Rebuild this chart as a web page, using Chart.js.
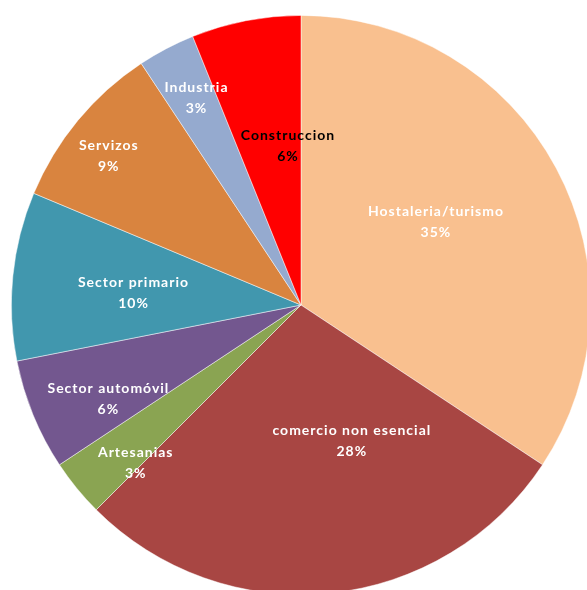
<!DOCTYPE html>
<html>
<head>
<meta charset="utf-8">
<script src="https://cdn.jsdelivr.net/npm/chart.js@4/dist/chart.umd.min.js"></script>
<style>
  html, body { margin: 0; padding: 0; background: #fff; overflow: hidden; width: 587px; height: 590px; }
  #wrap { position: absolute; left: 11px; top: 15px; width: 580px; height: 580px; }
</style>
</head>
<body>
<div id="wrap"><canvas id="chart"></canvas></div>
<script>
// Sectors, clockwise from 12 o'clock
const SECTORS = [
	'Hostaleria/turismo',
	'comercio non esencial',
	'Artesanias',
	'Sector automóvil',
	'Sector primario',
	'Servizos',
	'Industria',
	'Construccion',
];
// Slice sizes (share of the circle, %)
const SHARES = [ 34.3, 28.2, 3.2, 6.2, 9.4, 9.4, 3.2, 6.1 ];
// Percentages as printed on the slices
const PCT_LABELS = [ '35%', '28%', '3%', '6%', '10%', '9%', '3%', '6%' ];

const COLORS = [ '#f9c08f', '#a84643', '#8aa452', '#73578f', '#4197ae', '#d9843f', '#95aacf', '#ff0000' ];
const TEXT_COLORS = [ '#fff', '#fff', '#fff', '#fff', '#fff', '#fff', '#fff', '#000' ];
// Label placement: fraction of radius and angle shift (deg) from slice middle
const LABEL_R = [ 0.547, 0.50, 0.79, 0.74, 0.58, 0.84, 0.80, 0.55 ];
const LABEL_SHIFT = [ -3.3, -14.8, -4.5, -3.7, -1.5, -1.8, 0.9, 6.3 ];

// Draw "name / pct" labels inside each slice, Excel style
const sliceLabels = {
	id: 'sliceLabels',
	afterDatasetsDraw( chart ) {
		const { ctx } = chart;
		const meta = chart.getDatasetMeta( 0 );
		ctx.save();
		ctx.font = 'bold 14px Lato, "Open Sans", sans-serif';
		ctx.letterSpacing = '1px';
		ctx.textAlign = 'center';
		ctx.textBaseline = 'middle';
		meta.data.forEach( ( arc, i ) => {
			const p = arc.getProps( [ 'x', 'y', 'startAngle', 'endAngle', 'outerRadius' ], true );
			const mid = ( p.startAngle + p.endAngle ) / 2 + LABEL_SHIFT[ i ] * Math.PI / 180;
			const r = p.outerRadius * LABEL_R[ i ];
			const x = p.x + Math.cos( mid ) * r;
			const y = p.y + Math.sin( mid ) * r;
			ctx.fillStyle = TEXT_COLORS[ i ];
			ctx.fillText( SECTORS[ i ], x, y - 10.5 );
			ctx.fillText( PCT_LABELS[ i ], x, y + 10.5 );
		} );
		ctx.restore();
	},
};

new Chart( document.getElementById( 'chart' ), {
	type: 'pie',
	data: {
		labels: SECTORS,
		datasets: [ {
			data: SHARES,
			backgroundColor: COLORS,
			borderColor: 'rgba(255,255,255,0.6)',
			borderWidth: 0.8,
		} ],
	},
	options: {
		responsive: true,
		maintainAspectRatio: false,
		animation: false,
		layout: { padding: 0 },
		plugins: {
			legend: { display: false },
			tooltip: { enabled: false },
		},
	},
	plugins: [ sliceLabels ],
} );
</script>
</body>
</html>
